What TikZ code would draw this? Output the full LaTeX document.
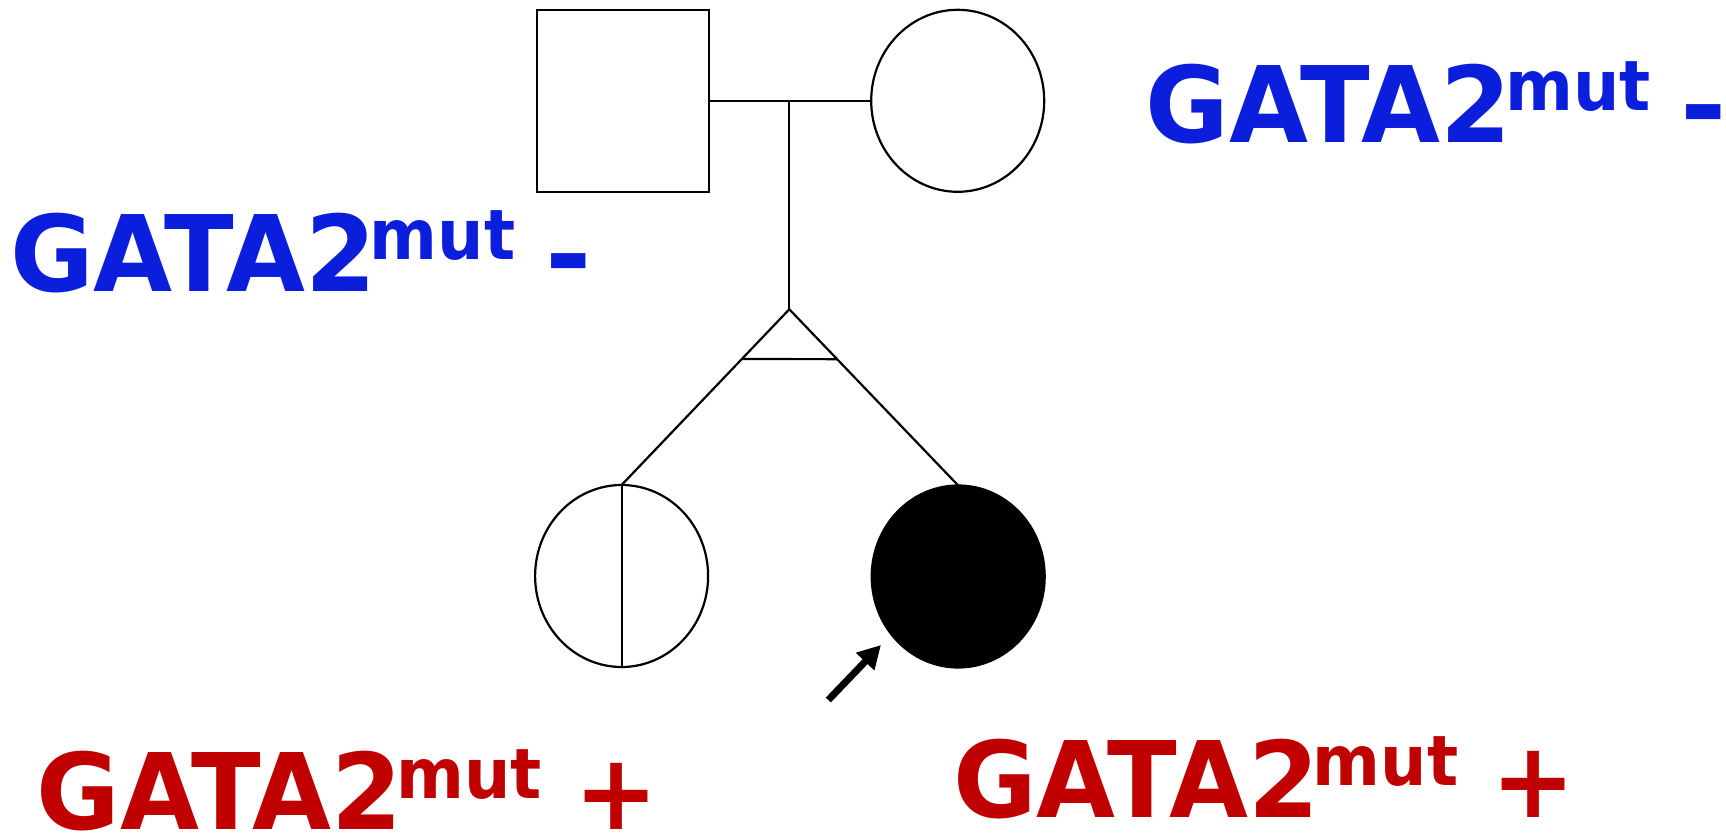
\documentclass[tikz,border=0pt]{standalone}
\usepackage{fontspec}
\usepackage{graphicx}
\setmainfont{DejaVu Sans}
\usetikzlibrary{shapes.geometric,arrows.meta,calc}
\definecolor{negblue}{RGB}{11,30,219}
\definecolor{posred}{RGB}{192,0,0}
% genotype label: GATA2 with raised "mut", then a sign
% #1 = sign, #2 = gap before the sign, #3 = horizontal scale of the sign
\newcommand\gatalabel[3]{{\fontsize{105.6pt}{110pt}\selectfont\bfseries
  \scalebox{0.966}[1]{GATA2}\kern-6.5pt
  \raisebox{31.7pt}{\scalebox{0.936}[1]{\fontsize{69.6pt}{70pt}\selectfont mut}}\kern#2
  \scalebox{#3}[1]{#1}}}
\begin{document}
\begin{tikzpicture}[x=1pt,y=-1pt,
  person/.style={draw=black,line width=2.2pt,inner sep=0pt,outer sep=0pt},
  male/.style={person,rectangle,minimum width=172pt,minimum height=182pt},
  female/.style={person,ellipse,minimum width=173pt,minimum height=182pt},
  affected/.style={fill=black},
  link/.style={draw=black,line width=2.2pt},
  geno/.style={anchor=base west,inner sep=0pt,outer sep=0pt,text depth=0pt}]
\useasboundingbox (0,0) rectangle (1726,834);

% parents
\node[male] (father) at (622.6,100.8) {};
\node[female] (mother) at (957.7,100.8) {};
\draw[link] (father.east) -- (mother.west);
\coordinate (drop) at (789.3,100.8);
\coordinate (apex) at (789.3,309.3);
\draw[link] (drop) -- (apex);

% monozygotic twins
\node[female] (twinA) at (621.6,576) {};
\node[female,affected] (twinB) at (958.2,576.5) {};
\draw[link] (twinA.north) -- (twinA.south);
\draw[link] (twinA.north) -- (apex) -- (twinB.north);
\draw[link] ($(apex)!0.283!(twinA.north)$) -- ($(apex)!0.283!(twinB.north)$);

% proband arrow
\coordinate (ptail) at (828.3,700);
\coordinate (ptip) at (881,645);
\draw[line width=7pt,-{Triangle[length=23pt,width=24pt]}] (ptail) -- (ptip);

% genotypes
\node[geno,text=negblue] (gFather) at (10,291) {\gatalabel{-}{30pt}{1.06}};
\node[geno,text=negblue] (gMother) at (1145.3,142.3) {\gatalabel{-}{30pt}{1.06}};
\node[geno,text=posred] (gTwinA) at (36.5,829.7) {\gatalabel{+}{33pt}{0.95}};
\node[geno,text=posred] (gTwinB) at (953.1,817.3) {\gatalabel{+}{33pt}{0.95}};
\end{tikzpicture}
\end{document}
